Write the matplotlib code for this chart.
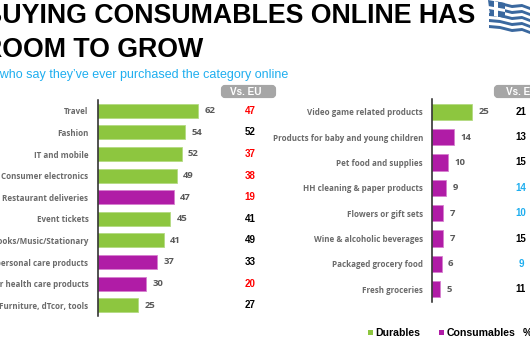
import matplotlib
matplotlib.use('Agg')
import matplotlib.pyplot as plt
from matplotlib.patches import FancyBboxPatch, Rectangle, Polygon

W, H = 530, 355

left_cats = ['Travel', 'Fashion', 'IT and mobile', 'Consumer electronics',
             'Restaurant deliveries', 'Event tickets', 'Books/Music/Stationary',
             'Beauty and personal care products', 'Medicine or health care products',
             'Furniture, dTcor, tools']
left_vals = [62, 54, 52, 49, 47, 45, 41, 37, 30, 25]
left_kind = ['d', 'd', 'd', 'd', 'c', 'd', 'd', 'c', 'c', 'd']
left_eu = [47, 52, 37, 38, 19, 41, 49, 33, 20, 27]
left_eu_col = ['r', 'k', 'r', 'r', 'r', 'k', 'k', 'k', 'r', 'k']

right_cats = ['Video game related products', 'Products for baby and young children',
              'Pet food and supplies', 'HH cleaning & paper products',
              'Flowers or gift sets', 'Wine & alcoholic beverages',
              'Packaged grocery food', 'Fresh groceries']
right_vals = [25, 14, 10, 9, 7, 7, 6, 5]
right_kind = ['d', 'c', 'c', 'c', 'c', 'c', 'c', 'c']
right_eu = [21, 13, 15, 14, 10, 15, 9, 11]
right_eu_col = ['k', 'k', 'k', 'b', 'b', 'k', 'b', 'k']

GREEN = '#8DC63F'
PURPLE = '#B01CA6'
GREY = '#595959'
KIND = {'d': GREEN, 'c': PURPLE}
KIND_EDGE = {'d': '#B4DA82', 'c': '#D67FCF'}
EU_COL = {'r': '#FF0000', 'k': '#000000', 'b': '#1FAEEF'}
LABEL_FONT = ['Open Sans', 'DejaVu Sans']

fig = plt.figure(figsize=(W / 100, H / 100), dpi=100, facecolor='white')


def px_axes(x0, y0, x1, y1):
    return fig.add_axes([x0 / W, 1 - y1 / H, (x1 - x0) / W, (y1 - y0) / H])


def panel(box, xmax, cats, vals, kinds, eu, eu_cols, height, eu_x, gap):
    ax = px_axes(*box)
    ypos = range(len(cats))
    ax.barh(ypos, vals, height=height, color=[KIND[k] for k in kinds],
            edgecolor=[KIND_EDGE[k] for k in kinds], linewidth=0.6)
    ax.set_xlim(0, xmax)
    ax.set_ylim(len(cats) - 0.5, -0.5)
    ax.set_yticks(list(ypos))
    ax.set_yticklabels(cats, fontsize=5.8, fontweight='bold', color='#6A6A6A',
                       family=LABEL_FONT)
    ax.set_xticks([])
    ax.tick_params(axis='y', length=0, pad=6.5)
    for s in ['top', 'right', 'bottom']:
        ax.spines[s].set_visible(False)
    ax.spines['left'].set_linewidth(1.1)
    ax.spines['left'].set_color('#222222')
    for i, v in enumerate(vals):
        ax.annotate(str(v), (v, i), xytext=(gap, 0), textcoords='offset points',
                    va='center', fontsize=6.8, fontweight='bold', color=GREY,
                    family=LABEL_FONT)
        fig.text(eu_x / W, 1 - (box[1] + (box[3] - box[1]) * (i + 0.5) / len(cats)) / H,
                 str(eu[i]), ha='center', va='center', fontsize=7,
                 fontweight='bold', color=EU_COL[eu_cols[i]],
                 family='Liberation Sans')
    return ax


panel((97.5, 100, 260, 316), 162.5 / 1.62, left_cats, left_vals, left_kind,
      left_eu, left_eu_col, 0.65, 250, 4.5)
panel((432, 99, 528, 302), 96 / 1.6, right_cats, right_vals, right_kind,
      right_eu, right_eu_col, 0.64, 521, 4.5)

bg = fig.add_axes([0, 0, 1, 1], zorder=-1)
bg.set_xlim(0, W)
bg.set_ylim(H, 0)
bg.axis('off')

# Vs. EU header pills
for x0, x1, lab_x in [(221, 276, 246), (494, 540, 522)]:
    bg.add_patch(FancyBboxPatch((x0 + 2, 87), x1 - x0 - 4, 9,
                                boxstyle='round,pad=0,rounding_size=2',
                                mutation_aspect=1, fc='#A6A6A6', ec='#A6A6A6',
                                lw=3))
    bg.text(lab_x, 92, 'Vs. EU', ha='center', va='center', fontsize=7.2,
            fontweight='bold', color='white', family='Liberation Sans')

# title and subtitle run off the left edge like the slide crop
fig.text(-17 / W, 1 - 16 / H, 'BUYING CONSUMABLES ONLINE HAS', fontsize=19.3,
         fontweight='bold', family='Liberation Sans', va='center', ha='left',
         color='black')
fig.text(-17 / W, 1 - 50 / H, 'ROOM TO GROW', fontsize=19.3, fontweight='bold',
         family='Liberation Sans', va='center', ha='left', color='black')
fig.text(-15 / W, 1 - 75 / H, "% who say they\u2019ve ever purchased the category online",
         fontsize=9, color='#1FAEEF', family='Liberation Sans', va='center',
         ha='left')

# legend
bg.add_patch(Rectangle((368, 330), 5, 5, fc=GREEN, ec='none'))
bg.text(375.5, 332.5, 'Durables', fontsize=7.6, fontweight='bold', va='center',
        family='Liberation Sans')
bg.add_patch(Rectangle((439, 330), 5, 5, fc=PURPLE, ec='none'))
bg.text(446.5, 332.5, 'Consumables', fontsize=7.6, fontweight='bold', va='center',
        family='Liberation Sans')
bg.text(523, 332.5, '%', fontsize=7.6, fontweight='bold', va='center',
        family='Liberation Sans')

# small waving flag, stripes drop towards the right
FLAG_BLUE = '#3A689F'
for i in range(9):
    if i % 2 == 0:
        y0 = 1 + i * 3
        bg.add_patch(Polygon([(489, y0), (500, y0 + 1), (512, y0 + 4),
                              (522, y0 + 3), (530, y0 + 6), (530, y0 + 9),
                              (522, y0 + 6), (512, y0 + 7), (500, y0 + 4),
                              (489, y0 + 3)], fc=FLAG_BLUE, ec='none'))
bg.add_patch(Polygon([(488, 0), (505, 3), (505, 18), (490, 15)], fc=FLAG_BLUE,
                     ec='none'))
bg.add_patch(Polygon([(494, 1), (498, 2), (498, 17), (494, 16)], fc='white',
                     ec='none'))
bg.add_patch(Polygon([(488, 6), (505, 9), (505, 12), (489, 9)], fc='white',
                     ec='none'))

fig.savefig('out.png', dpi=100)
